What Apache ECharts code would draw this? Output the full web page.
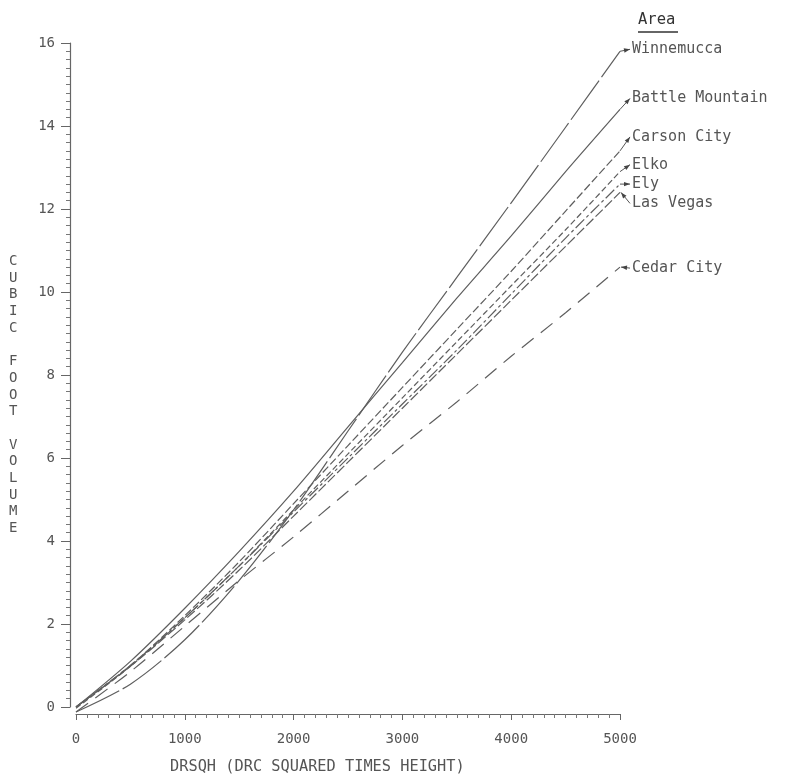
<!DOCTYPE html>
<html>
<head>
<meta charset="utf-8">
<script src="https://cdn.jsdelivr.net/npm/echarts@6/dist/echarts.min.js"></script>
<style>html,body{margin:0;padding:0;background:#fff}#c{width:789px;height:783px}</style>
</head>
<body>
<div id="c"></div>
<script>
// ---- data ----
var drsqh = [0, 500, 1000, 1500, 2000, 2500, 3000, 3500, 4000, 4500, 5000];
var areaNames = ['Winnemucca', 'Battle Mountain', 'Carson City', 'Elko', 'Ely', 'Las Vegas', 'Cedar City'];
var winnemucca    = [-0.12, 0.55, 1.62, 3.05, 4.75, 6.65, 8.55, 10.35, 12.15, 13.97, 15.8];
var battleMountain= [0.0, 1.1, 2.38, 3.75, 5.2, 6.75, 8.3, 9.85, 11.35, 12.9, 14.4];
var carsonCity    = [0.0, 1.0, 2.2, 3.5, 4.9, 6.3, 7.7, 9.1, 10.5, 11.95, 13.4];
var elko          = [-0.03, 0.98, 2.15, 3.4, 4.75, 6.1, 7.45, 8.8, 10.15, 11.5, 12.9];
var ely           = [0.0, 1.0, 2.15, 3.4, 4.7, 6.0, 7.3, 8.6, 9.95, 11.3, 12.6];
var lasVegas      = [0.0, 0.98, 2.1, 3.3, 4.6, 5.9, 7.2, 8.5, 9.8, 11.1, 12.4];
var cedarCity     = [-0.12, 0.85, 1.95, 3.05, 4.1, 5.2, 6.3, 7.35, 8.45, 9.5, 10.6];
var xTicks = [0, 1000, 2000, 3000, 4000, 5000];
var yTicks = [0, 2, 4, 6, 8, 10, 12, 14, 16];

// ---- styles (not data) ----
var values = [winnemucca, battleMountain, carsonCity, elko, ely, lasVegas, cedarCity];
var dashes = [[48, 4], 'solid', [8, 3], [6, 3], [12, 3, 3, 3], [10, 3], [15, 9]];
var labelDy = [-2, -11, -14, -7, 0, 11, 1];   // px offsets of label from line end
var arrowHeadAtLine = [false, false, false, false, false, true, true];
var FONT = 'DejaVu Sans Mono';
var LINE = '#5e5e5e';
var TXT = '#555';

var series = areaNames.map(function (name, i) {
  var v = values[i];
  var data = drsqh.map(function (d, k) { return [d, v[k]]; });
  return {
    name: name, type: 'line', data: data, smooth: 0.3, showSymbol: false, clip: false,
    lineStyle: { color: LINE, width: 1.2, type: dashes[i] },
    endLabel: { show: true, formatter: name, offset: [4, labelDy[i]], color: TXT,
      fontFamily: FONT, fontSize: 15 }
  };
});

var axisLabelFmt = function (v) { return String(v); };

var chart = echarts.init(document.getElementById('c'), null, { renderer: 'canvas' });
var baseGraphic = [
  { type: 'text', left: 9, top: 253,
    style: { text: 'CUBIC FOOT VOLUME'.split('').join('\n'), fill: TXT, font: '14px ' + FONT,
      lineHeight: 16.7, align: 'center' } },
  { type: 'text', left: 170, top: 760,
    style: { text: 'DRSQH (DRC SQUARED TIMES HEIGHT)', fill: TXT, font: '15.3px ' + FONT } },
  { type: 'text', left: 638, top: 12,
    style: { text: 'Area', fill: '#333', font: '15.5px ' + FONT } },
  { type: 'line', shape: { x1: 638, y1: 32, x2: 678, y2: 32 }, style: { stroke: '#333', lineWidth: 1.3 } }
];
chart.setOption({
  animation: false,
  backgroundColor: '#fff',
  grid: { left: 76, right: 169, top: 43, bottom: 76 },
  xAxis: {
    type: 'value', min: xTicks[0], max: xTicks[xTicks.length - 1], interval: 1000, offset: 7,
    axisLine: { onZero: false, lineStyle: { color: '#666', width: 1.2 } },
    axisTick: { show: true, length: 6, lineStyle: { color: '#666' } },
    minorTick: { show: true, splitNumber: 10, length: 4, lineStyle: { color: '#777' } },
    splitLine: { show: false },
    axisLabel: { color: TXT, fontFamily: FONT, fontSize: 14, margin: 18, formatter: axisLabelFmt }
  },
  yAxis: {
    type: 'value', min: yTicks[0], max: yTicks[yTicks.length - 1], interval: 2, offset: 6,
    axisLine: { show: true, onZero: false, lineStyle: { color: '#666', width: 1.2 } },
    axisTick: { show: true, length: 9, lineStyle: { color: '#666' } },
    minorTick: { show: true, splitNumber: 10, length: 4, lineStyle: { color: '#777' } },
    splitLine: { show: false },
    axisLabel: { color: TXT, fontFamily: FONT, fontSize: 14, margin: 15, formatter: axisLabelFmt }
  },
  graphic: baseGraphic,
  series: series
});

// small arrows linking each curve end to its label
var arrows = [];
areaNames.forEach(function (name, i) {
  var v = values[i];
  var end = chart.convertToPixel({ gridIndex: 0 }, [drsqh[drsqh.length - 1], v[v.length - 1]]);
  var lab = [end[0] + 10, end[1] + labelDy[i]];
  var tip, tail;
  if (arrowHeadAtLine[i]) { tip = [end[0] + 1, end[1]]; tail = lab; }
  else { tip = lab; tail = end; }
  var ang = Math.atan2(tip[1] - tail[1], tip[0] - tail[0]);
  var L = 6, W = 2.2;
  var bx = tip[0] - L * Math.cos(ang), by = tip[1] - L * Math.sin(ang);
  var px = -Math.sin(ang) * W, py = Math.cos(ang) * W;
  arrows.push({ type: 'line', shape: { x1: tail[0], y1: tail[1], x2: tip[0], y2: tip[1] },
    style: { stroke: '#555', lineWidth: 1 } });
  arrows.push({ type: 'polygon', shape: { points: [tip, [bx + px, by + py], [bx - px, by - py]] },
    style: { fill: '#444' } });
});
chart.setOption({ graphic: baseGraphic.concat(arrows) });
</script>
</body>
</html>
